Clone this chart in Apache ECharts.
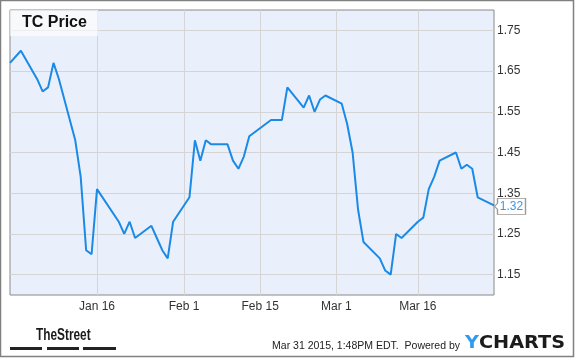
<!DOCTYPE html>
<html>
<head>
<meta charset="utf-8">
<script src="https://cdn.jsdelivr.net/npm/echarts@6/dist/echarts.min.js"></script>
<style>
html,body{margin:0;padding:0;background:#fff;}
#chart{width:575px;height:358px;}
</style>
</head>
<body>
<div id="chart"></div>
<script>
// ---- data ----
const dates = [
  '2014-12-31','2015-01-02','2015-01-05','2015-01-06','2015-01-07','2015-01-08','2015-01-09',
  '2015-01-12','2015-01-13','2015-01-14','2015-01-15','2015-01-16',
  '2015-01-20','2015-01-21','2015-01-22','2015-01-23',
  '2015-01-26','2015-01-27','2015-01-28','2015-01-29','2015-01-30',
  '2015-02-02','2015-02-03','2015-02-04','2015-02-05','2015-02-06',
  '2015-02-09','2015-02-10','2015-02-11','2015-02-12','2015-02-13',
  '2015-02-17','2015-02-18','2015-02-19','2015-02-20',
  '2015-02-23','2015-02-24','2015-02-25','2015-02-26','2015-02-27',
  '2015-03-02','2015-03-03','2015-03-04','2015-03-05','2015-03-06',
  '2015-03-09','2015-03-10','2015-03-11','2015-03-12','2015-03-13',
  '2015-03-16','2015-03-17','2015-03-18','2015-03-19','2015-03-20',
  '2015-03-23','2015-03-24','2015-03-25','2015-03-26','2015-03-27',
  '2015-03-30'
];
const prices = [
  1.67,1.70,1.63,1.60,1.61,1.67,1.63,
  1.48,1.39,1.21,1.20,1.36,
  1.28,1.25,1.28,1.24,
  1.27,1.24,1.21,1.19,1.28,
  1.34,1.48,1.43,1.48,1.47,
  1.47,1.43,1.41,1.44,1.49,
  1.53,1.53,1.53,1.61,
  1.56,1.59,1.55,1.58,1.59,
  1.57,1.52,1.45,1.31,1.23,
  1.19,1.16,1.15,1.25,1.24,
  1.28,1.29,1.36,1.39,1.43,
  1.45,1.41,1.42,1.41,1.34,
  1.32
];
const xTickDates = ['2015-01-16','2015-02-01','2015-02-15','2015-03-01','2015-03-16'];
const xTickLabels = ['Jan 16','Feb 1','Feb 15','Mar 1','Mar 16'];
const yTicks = [1.15,1.25,1.35,1.45,1.55,1.65,1.75];
const xRange = ['2014-12-31','2015-03-30'];
const yRange = [1.10,1.80];
const titleText = 'TC Price';
const footerText = 'Mar 31 2015, 1:48PM EDT.  Powered by';

// ---- helpers ----
function ts(s){ const p = s.split('-').map(Number); return Date.UTC(p[0], p[1]-1, p[2]); }
const seriesData = dates.map((d,i)=>[ts(d), prices[i]]);
const xTickTs = xTickDates.map(ts);
const labelByTs = {}; xTickTs.forEach((t,i)=>{ labelByTs[t] = xTickLabels[i]; });
const last = seriesData[seriesData.length-1];

const FONT = '"Liberation Sans", Arial, sans-serif';
const chart = echarts.init(document.getElementById('chart'), null, {renderer:'canvas'});
chart.setOption({
  animation: false,
  backgroundColor: '#ffffff',
  title: {
    text: titleText, left: 10, top: 10,
    padding: [5, 11, 5, 12],
    backgroundColor: 'rgba(255,255,255,0.6)',
    textStyle: {fontFamily: FONT, fontSize: 16, fontWeight: 'bold', color: '#111'}
  },
  grid: {
    left: 10, right: 81, top: 10, bottom: 63,
    show: true, backgroundColor: '#eaf0fb', borderColor: '#888', borderWidth: 1,
    containLabel: false
  },
  xAxis: {
    type: 'value',
    min: ts(xRange[0]), max: ts(xRange[1]),
    axisLine: {show: false},
    axisTick: {show: false, customValues: xTickTs},
    splitLine: {show: true, lineStyle: {color: '#d5d5d5', width: 1}},
    axisLabel: {
      customValues: xTickTs,
      formatter: v => labelByTs[v] || '',
      color: '#333', fontFamily: FONT, fontSize: 12, margin: 6, hideOverlap: false
    }
  },
  yAxis: {
    type: 'value', position: 'right',
    min: yRange[0], max: yRange[1],
    axisLine: {show: false},
    axisTick: {show: false, customValues: yTicks},
    splitLine: {show: true, lineStyle: {color: '#d5d5d5', width: 1}},
    axisLabel: {
      customValues: yTicks,
      formatter: v => v.toFixed(2),
      color: '#333', fontFamily: FONT, fontSize: 12, margin: 3
    }
  },
  series: [{
    type: 'line',
    data: seriesData,
    showSymbol: false,
    symbol: 'none',
    lineStyle: {color: '#1a8ae6', width: 2},
    itemStyle: {color: '#1a8ae6'},
    z: 3,
    markPoint: {
      silent: true,
      symbol: 'path://M0,8 L3,5 L3,0 L31,0 L31,16 L3,16 L3,11 Z',
      symbolSize: [31, 16],
      symbolOffset: [16, 1],
      itemStyle: {color: '#ffffff', borderColor: '#999', borderWidth: 1},
      label: {show: true, position: 'inside', offset: [1.5, 0], color: '#3a96e8',
              fontFamily: FONT, fontSize: 12, formatter: p => p.value.toFixed(2)},
      data: [{coord: last, value: last[1]}]
    }
  }],
  graphic: [
    {type: 'rect', shape: {x: 0.5, y: 0.5, width: 573, height: 356},
     style: {fill: null, stroke: '#808080', lineWidth: 1.5}, silent: true, z: 100},
    {type: 'text', x: 36, y: 336, scaleX: 0.74, originX: 0, originY: 0,
     style: {text: 'TheStreet', fill: '#1a1a1a', verticalAlign: 'middle',
             font: 'bold 16px "Liberation Sans", Arial, sans-serif'}},
    {type: 'rect', shape: {x: 10, y: 347, width: 32, height: 3}, style: {fill: '#222'}},
    {type: 'rect', shape: {x: 47, y: 347, width: 32, height: 3}, style: {fill: '#222'}},
    {type: 'rect', shape: {x: 83, y: 347, width: 33, height: 3}, style: {fill: '#222'}},
    {type: 'text', x: 460, y: 346,
     style: {text: footerText, fill: '#222', align: 'right', verticalAlign: 'middle',
             font: '10.5px "Liberation Sans", Arial, sans-serif'}},
    {type: 'text', x: 465, y: 343, scaleX: 1.07, originX: 0, originY: 0,
     style: {text: '{y|Y}{c|CHARTS}', verticalAlign: 'middle',
             rich: {
               y: {fill: '#2f9bf0', font: 'bold 18px "DejaVu Sans", sans-serif'},
               c: {fill: '#1b1b1b', font: 'bold 18px "DejaVu Sans", sans-serif'}
             }}}
  ]
});
</script>
</body>
</html>
